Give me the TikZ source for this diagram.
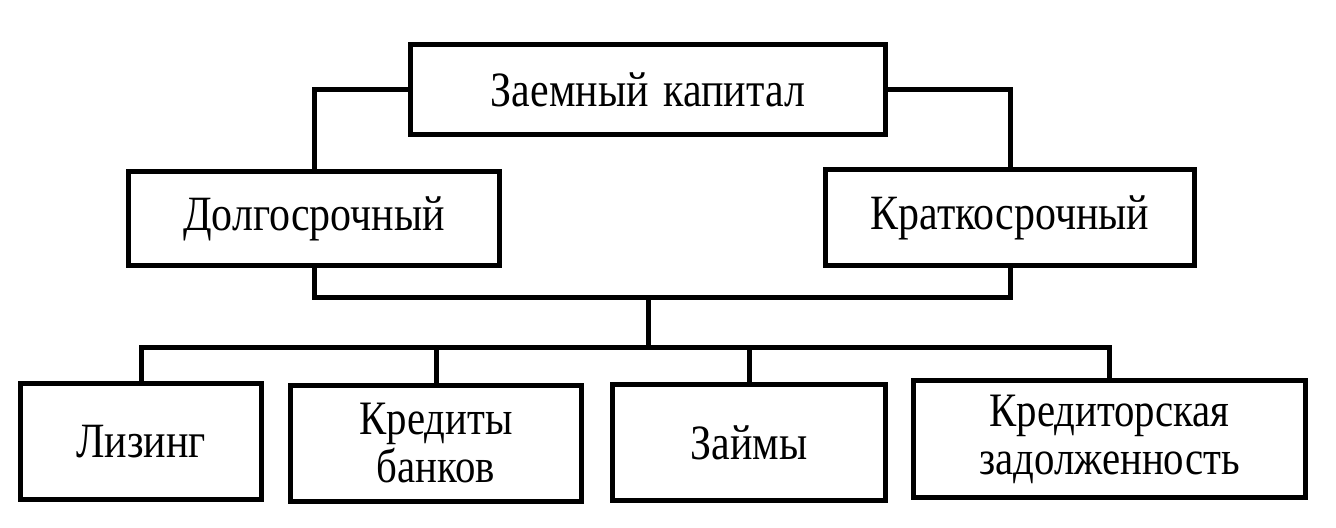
\documentclass[tikz,border=0pt]{standalone}
\usepackage{fontspec}
\setmainfont{Liberation Serif}[FakeStretch=0.85]
\begin{document}
\begin{tikzpicture}[x=0.75pt,y=-0.75pt,
  box/.style={draw,line width=3.75pt,rectangle,inner sep=0pt,align=center,
    font=\fontsize{37}{32}\selectfont},
  twoline/.style={font=\fontsize{36}{36}\selectfont},
  link/.style={line width=3.75pt,line join=miter}]
\useasboundingbox (0,0) rectangle (1336,528);
\node[box,minimum width=475*0.75pt,minimum height=90*0.75pt] (top) at (648,89.5) {Заемный\hspace{0.3em}капитал};
\node[box,minimum width=371*0.75pt,minimum height=94*0.75pt] (dolg) at (314,218.5) {Долгосрочный};
\node[box,minimum width=369*0.75pt,minimum height=96*0.75pt] (krat) at (1010,217.5) {Краткосрочный};
\node[box,minimum width=241*0.75pt,minimum height=116*0.75pt] (liz) at (141,441.5) {Лизинг};
\node[box,twoline,minimum width=291*0.75pt,minimum height=116*0.75pt] (kred) at (436,443.5) {Кредиты\\банков};
\node[box,minimum width=273*0.75pt,minimum height=116*0.75pt] (zaim) at (749,442.5) {Займы};
\node[box,twoline,minimum width=392*0.75pt,minimum height=117*0.75pt] (kz) at (1109.5,439) {Кредиторская\\задолженность};
\coordinate (j1) at (648,297);
\coordinate (j2) at (648,347);
\draw[link] (top.west) -| (dolg.north);
\draw[link] (top.east) -| (krat.north);
\draw[link] (dolg.south) |- (j1) -| (krat.south);
\draw[link] (j1) -- (j2);
\draw[link] (liz.north) |- (j2) -| (kz.north);
\draw[link] (kred.north) -- (kred.north |- j2);
\draw[link] (zaim.north) -- (zaim.north |- j2);
\end{tikzpicture}
\end{document}
